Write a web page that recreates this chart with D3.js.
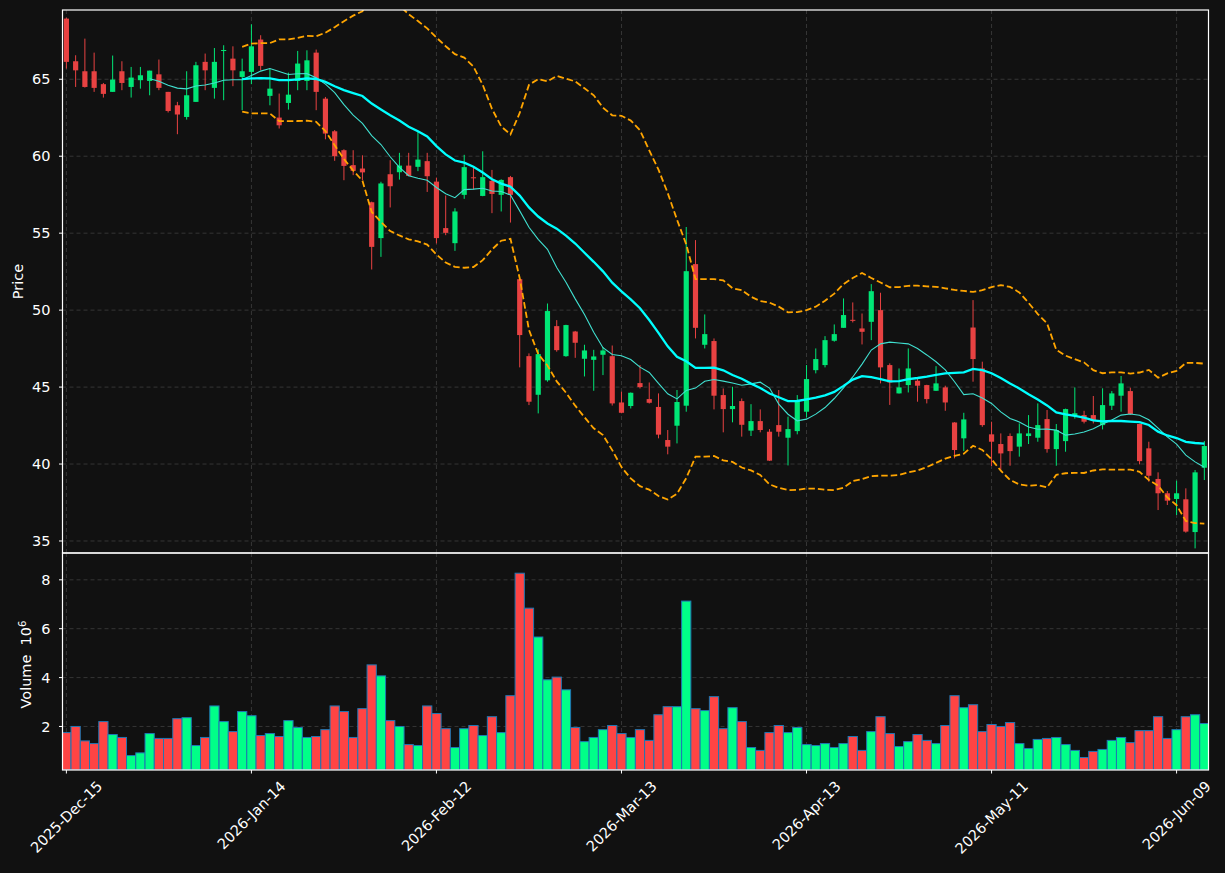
<!DOCTYPE html>
<html><head><meta charset="utf-8">
<script src="https://cdn.jsdelivr.net/npm/d3@7"></script>
<style>
html,body{margin:0;padding:0;background:#111111;}
svg{display:block;font-family:"DejaVu Sans",sans-serif;}
</style></head><body>
<svg id="chart" width="1225" height="873"></svg>
<script>
// ---- data ----
const tickIndex = [0, 20, 40, 60, 80, 100, 120];
const tickLabels = ["2025-Dec-15","2026-Jan-14","2026-Feb-12","2026-Mar-13","2026-Apr-13","2026-May-11","2026-Jun-09"];
const priceTicks = [35, 40, 45, 50, 55, 60, 65];
const volumeTicks = [2, 4, 6, 8];

const openP = [68.94,66.17,65.52,65.52,64.68,64.18,65.52,64.50,64.94,64.89,
65.32,64.18,63.31,62.55,63.53,66.13,64.44,66.85,66.34,65.15,
65.48,67.58,63.92,62.51,63.46,64.89,64.89,66.73,63.74,61.62,
60.39,59.42,59.20,57.01,54.68,58.83,58.96,59.39,59.31,59.68,
58.35,55.33,54.35,57.49,58.63,57.42,58.40,57.49,58.64,52.01,
47.01,44.50,45.44,48.96,47.01,48.61,46.84,46.77,47.10,47.01,
44.00,43.77,45.26,44.22,43.71,41.56,42.49,43.79,52.99,47.75,
47.99,44.48,43.57,44.09,42.17,42.79,42.10,42.53,41.71,42.14,
43.40,46.10,46.43,48.01,48.85,49.37,48.81,49.24,50.00,46.43,
44.59,45.13,45.41,45.13,44.76,44.98,42.70,41.67,48.87,46.21,
41.93,41.30,41.82,41.13,41.82,41.71,42.92,40.97,41.49,43.15,
43.18,43.18,42.53,43.79,44.44,44.74,42.60,41.02,39.03,38.10,
37.73,37.71,35.58,39.76];
const highP = [69.00,66.56,67.64,66.73,64.76,66.54,66.17,65.80,65.80,65.56,
66.28,64.18,63.53,65.52,66.13,66.67,67.03,67.21,67.14,66.34,
68.57,67.86,65.69,64.07,65.43,66.84,66.88,66.93,63.85,61.70,
60.45,60.39,60.06,57.05,58.34,59.74,60.22,60.22,61.58,60.22,
58.61,57.45,56.62,60.09,59.33,60.32,59.11,58.50,58.72,52.05,
47.19,47.45,50.43,49.35,49.05,48.65,47.75,47.42,47.60,47.70,
44.70,44.65,46.43,45.30,44.59,42.21,44.81,55.40,54.55,49.72,
48.16,44.91,45.02,44.26,43.89,43.55,42.27,44.81,43.08,44.48,
46.43,47.51,48.31,49.07,50.76,50.50,49.78,51.69,51.13,46.54,
46.21,47.51,45.56,45.15,46.36,45.09,42.72,43.33,50.65,46.65,
42.75,41.99,41.99,42.64,43.18,43.94,43.51,42.60,43.60,44.98,
43.46,44.42,44.92,44.74,45.72,44.96,42.62,41.45,39.46,38.25,
38.92,38.42,39.61,41.49];
const lowP = [65.69,64.50,64.46,64.18,63.81,64.18,64.29,63.81,64.39,63.96,
64.29,62.84,61.43,62.38,63.53,64.29,63.74,63.64,64.55,62.99,
64.68,65.58,63.31,61.80,63.03,64.29,64.29,62.99,61.10,59.70,
58.44,58.77,58.44,52.64,53.46,56.67,58.48,58.70,59.03,57.68,
54.33,54.87,53.85,57.23,57.84,57.40,56.30,56.41,55.69,46.28,
43.83,43.29,45.35,47.30,46.97,46.90,45.69,44.76,45.78,43.80,
43.30,43.61,44.91,43.93,41.67,40.63,41.34,43.40,48.16,47.51,
43.55,42.06,42.71,41.78,41.82,42.06,40.20,41.78,39.91,41.93,
43.03,45.89,46.28,47.95,48.85,49.20,47.77,48.05,45.24,43.84,
44.58,44.65,44.05,43.94,44.75,43.46,40.37,40.84,45.35,42.42,
39.87,39.61,39.89,40.48,41.30,41.45,40.74,39.89,40.80,42.95,
42.64,42.64,42.25,43.51,43.40,43.20,39.98,38.85,37.01,37.34,
36.69,35.54,34.52,38.96];
const closeP = [66.13,65.58,64.50,64.44,64.05,64.98,64.76,65.11,65.26,65.56,
64.44,62.94,62.71,63.96,65.91,65.58,66.13,66.90,65.58,65.52,
67.14,65.87,64.39,62.01,64.00,66.02,66.23,64.18,61.47,60.00,
59.37,59.05,58.95,54.11,58.23,58.05,59.39,58.72,59.78,58.70,
54.68,55.02,56.41,59.29,58.58,58.64,57.55,58.46,57.49,48.38,
44.05,47.14,49.94,47.40,49.03,47.88,47.38,46.99,47.38,43.94,
43.33,44.63,45.00,43.98,41.91,41.13,44.03,52.53,48.85,48.44,
44.44,43.57,43.77,42.55,42.79,42.21,40.22,42.10,42.27,44.16,
45.52,46.82,48.05,48.44,49.68,49.31,48.59,51.23,46.28,45.30,
44.98,46.21,45.09,44.22,45.24,44.00,40.91,42.90,46.82,42.53,
41.45,40.69,40.84,41.99,41.99,42.53,40.97,42.21,43.57,43.30,
42.75,42.81,43.83,44.59,45.24,43.25,40.19,39.24,38.10,37.62,
38.10,35.61,39.46,41.17];
const volume = [1.75,2.00,1.41,1.30,2.20,1.67,1.55,0.81,0.92,1.71,
1.51,1.51,2.32,2.36,1.22,1.55,2.84,2.20,1.79,2.61,
2.44,1.63,1.71,1.59,2.24,1.96,1.55,1.59,1.87,2.84,
2.61,1.55,2.73,4.52,4.07,2.24,2.00,1.26,1.22,2.84,
2.53,1.91,1.14,1.91,2.04,1.63,2.40,1.75,3.26,8.27,
6.84,5.66,3.91,4.02,3.50,1.96,1.38,1.55,1.87,2.04,
1.71,1.55,1.87,1.43,2.48,2.81,2.81,7.13,2.73,2.65,
3.22,1.91,2.77,2.20,1.14,1.02,1.75,2.04,1.75,1.96,
1.26,1.22,1.30,1.14,1.30,1.59,1.02,1.79,2.40,1.71,
1.18,1.38,1.67,1.43,1.30,2.04,3.26,2.77,2.89,1.79,
2.08,2.00,2.16,1.30,1.10,1.47,1.51,1.55,1.26,1.02,
0.73,0.98,1.06,1.43,1.55,1.34,1.83,1.83,2.40,1.51,
1.87,2.40,2.48,2.12];

// indicator settings of the original chart (moving averages 10 & 20, bands 20/2)
const maShortLen = 10, maLongLen = 20, bandK = 2;

// ---- layout ----
const W = 1225, H = 873;
const L = 62.5, R = 1208.5;
const pTop = 10, pBot = 553, vTop = 553, vBot = 770;
const n = closeP.length;

const svg = d3.select("#chart");
svg.append("rect").attr("width", W).attr("height", H).attr("fill", "#111111");

const x = d3.scaleLinear().domain([-0.42, 123.45]).range([L, R]);
const y = d3.scaleLinear().domain([34.22, 69.50]).range([pBot, pTop]);
const yv = d3.scaleLinear().domain([0.3 * d3.min(volume), 1.1 * d3.max(volume)]).range([vBot, vTop]);
const step = x(1) - x(0);

const defs = svg.append("defs");
defs.append("clipPath").attr("id", "clipP").append("rect").attr("x", L).attr("y", pTop).attr("width", R - L).attr("height", pBot - pTop);
defs.append("clipPath").attr("id", "clipV").append("rect").attr("x", L).attr("y", vTop).attr("width", R - L).attr("height", vBot - vTop);

const gridCol = "#3a3a3a";
// grids
const grid = svg.append("g").attr("stroke", gridCol).attr("stroke-width", 0.9).attr("stroke-dasharray", "4,3");
tickIndex.forEach(i => {
  grid.append("line").attr("x1", x(i)).attr("x2", x(i)).attr("y1", pTop).attr("y2", pBot);
  grid.append("line").attr("x1", x(i)).attr("x2", x(i)).attr("y1", vTop).attr("y2", vBot);
});
priceTicks.forEach(v => grid.append("line").attr("x1", L).attr("x2", R).attr("y1", y(v)).attr("y2", y(v)));
volumeTicks.forEach(v => grid.append("line").attr("x1", L).attr("x2", R).attr("y1", yv(v)).attr("y2", yv(v)));

const idx = d3.range(n);
const isUp = i => closeP[i] >= openP[i];

// volume bars
svg.append("g").attr("clip-path", "url(#clipV)").selectAll("rect").data(idx).join("rect")
  .attr("x", i => x(i) - step / 2)
  .attr("width", step)
  .attr("y", i => yv(volume[i]))
  .attr("height", i => vBot - yv(volume[i]))
  .attr("fill", i => isUp(i) ? "#00ff88" : "#ff4444")
  .attr("stroke", "#1f77b4").attr("stroke-width", 1);

// candles
const cg = svg.append("g").attr("clip-path", "url(#clipP)");
const upC = "#00e676", dnC = "#e84242";
cg.selectAll("line.wick").data(idx).join("line").attr("class", "wick")
  .attr("x1", i => x(i)).attr("x2", i => x(i))
  .attr("y1", i => y(highP[i])).attr("y2", i => y(lowP[i]))
  .attr("stroke", i => isUp(i) ? upC : dnC).attr("stroke-width", 1);
const bw = step * 0.56;
cg.selectAll("rect.body").data(idx).join("rect").attr("class", "body")
  .attr("x", i => x(i) - bw / 2).attr("width", bw)
  .attr("y", i => y(Math.max(openP[i], closeP[i])))
  .attr("height", i => Math.max(1, Math.abs(y(openP[i]) - y(closeP[i]))))
  .attr("fill", i => isUp(i) ? upC : dnC);

// indicators derived from the close series
function rolling(len, fn) {
  return idx.map(i => i < len - 1 ? null : fn(closeP.slice(i - len + 1, i + 1)));
}
const maShort = rolling(maShortLen, a => d3.mean(a));
const maLong = rolling(maLongLen, a => d3.mean(a));
const sdLong = rolling(maLongLen, a => d3.deviation(a));
const bandUp = idx.map(i => maLong[i] == null ? null : maLong[i] + bandK * sdLong[i]);
const bandLo = idx.map(i => maLong[i] == null ? null : maLong[i] - bandK * sdLong[i]);

const lineGen = arr => d3.line().defined(i => arr[i] != null).x(i => x(i)).y(i => y(arr[i]))(idx);
const lg = svg.append("g").attr("clip-path", "url(#clipP)").attr("fill", "none");
lg.append("path").attr("d", lineGen(maShort)).attr("stroke", "#40e0d0").attr("stroke-width", 1.1);
lg.append("path").attr("d", lineGen(maLong)).attr("stroke", "#00ffff").attr("stroke-width", 2.3);
lg.append("path").attr("d", lineGen(bandUp)).attr("stroke", "#ffa500").attr("stroke-width", 1.8).attr("stroke-dasharray", "6.5,3");
lg.append("path").attr("d", lineGen(bandLo)).attr("stroke", "#ffa500").attr("stroke-width", 1.8).attr("stroke-dasharray", "6.5,3");

// frames
const frame = svg.append("g").attr("fill", "none").attr("stroke", "#ffffff").attr("stroke-width", 1.2);
frame.append("rect").attr("x", L).attr("y", pTop).attr("width", R - L).attr("height", pBot - pTop);
frame.append("rect").attr("x", L).attr("y", vTop).attr("width", R - L).attr("height", vBot - vTop);

// axes
const fs = 14.5;
const ax = svg.append("g").attr("fill", "#ffffff").attr("font-size", fs);
priceTicks.forEach(v => {
  ax.append("line").attr("x1", L - 3.5).attr("x2", L).attr("y1", y(v)).attr("y2", y(v)).attr("stroke", "#fff").attr("stroke-width", 1);
  ax.append("text").attr("x", L - 12).attr("y", y(v)).attr("dy", "0.36em").attr("text-anchor", "end").text(v);
});
volumeTicks.forEach(v => {
  ax.append("line").attr("x1", L - 3.5).attr("x2", L).attr("y1", yv(v)).attr("y2", yv(v)).attr("stroke", "#fff").attr("stroke-width", 1);
  ax.append("text").attr("x", L - 12).attr("y", yv(v)).attr("dy", "0.36em").attr("text-anchor", "end").text(v);
});
tickIndex.forEach((ti, k) => {
  ax.append("line").attr("x1", x(ti)).attr("x2", x(ti)).attr("y1", vBot).attr("y2", vBot + 3.5).attr("stroke", "#fff").attr("stroke-width", 1);
  const t = ax.append("text").attr("text-anchor", "middle").attr("dy", "0.35em").text(tickLabels[k]);
  const bb = t.node().getBBox();
  const hh = (bb.width + bb.height) * Math.SQRT1_2;
  t.attr("transform", `translate(${x(ti)},${vBot + 8 + hh / 2}) rotate(-45)`);
});
ax.append("text").attr("transform", `translate(23,${(pTop + pBot) / 2}) rotate(-90)`)
  .attr("text-anchor", "middle").text("Price");
const vl = ax.append("text").attr("transform", `translate(31,${(vTop + vBot) / 2 + 3}) rotate(-90)`)
  .attr("text-anchor", "middle").style("white-space", "pre");
vl.append("tspan").text("Volume  10");
vl.append("tspan").attr("dy", "-0.5em").attr("font-size", "0.7em").text("6");
</script>
</body></html>
